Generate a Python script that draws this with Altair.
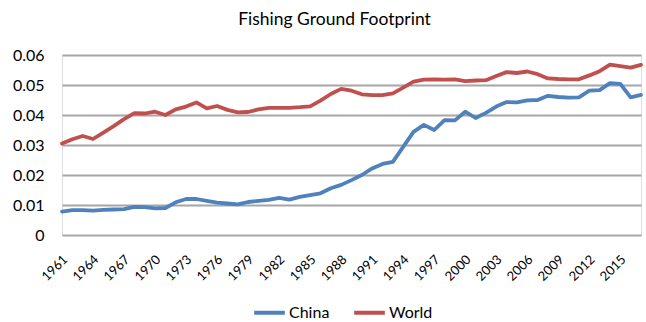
import altair as alt
import pandas as pd

# Fishing ground footprint per capita (global hectares), 1961-2017
years = list(range(1961, 2018))

china = [
    0.0078, 0.0083, 0.0083, 0.0081, 0.0084, 0.0085, 0.0086, 0.0094, 0.0093, 0.0089,
    0.0090, 0.0109, 0.0120, 0.0120, 0.0114, 0.0108, 0.0105, 0.0102, 0.0110, 0.0114,
    0.0117, 0.0124, 0.0118, 0.0127, 0.0133, 0.0139, 0.0156, 0.0167, 0.0183, 0.0200,
    0.0222, 0.0237, 0.0244, 0.0294, 0.0344, 0.0367, 0.0350, 0.0383, 0.0382, 0.0411,
    0.0390, 0.0407, 0.0428, 0.0443, 0.0442, 0.0449, 0.0450, 0.0464, 0.0460, 0.0458,
    0.0459, 0.0481, 0.0483, 0.0506, 0.0504, 0.0459, 0.0467,
]

world = [
    0.0305, 0.0319, 0.0330, 0.0320, 0.0341, 0.0363, 0.0386, 0.0406, 0.0405, 0.0411,
    0.0400, 0.0419, 0.0428, 0.0442, 0.0422, 0.0430, 0.0417, 0.0409, 0.0410, 0.0419,
    0.0424, 0.0424, 0.0424, 0.0426, 0.0429, 0.0448, 0.0470, 0.0487, 0.0481, 0.0469,
    0.0466, 0.0466, 0.0472, 0.0491, 0.0511, 0.0518, 0.0519, 0.0518, 0.0519, 0.0513,
    0.0515, 0.0516, 0.0530, 0.0543, 0.0540, 0.0545, 0.0536, 0.0522, 0.0520, 0.0519,
    0.0519, 0.0532, 0.0546, 0.0568, 0.0563, 0.0558, 0.0567,
]

series_names = ["China", "World"]
series_colors = ["#4F81BD", "#C0504D"]
year_ticks = list(range(1961, 2016, 3))

df = pd.concat([
    pd.DataFrame({"Year": years, "Value": china, "Series": "China"}),
    pd.DataFrame({"Year": years, "Value": world, "Series": "World"}),
])

FONT = "Lato"

chart = (
    alt.Chart(df)
    .mark_line(strokeWidth=3.8, strokeCap="round", strokeJoin="round")
    .encode(
        x=alt.X(
            "Year:Q",
            scale=alt.Scale(domain=[1961, 2017], nice=False, zero=False),
            axis=alt.Axis(
                values=year_ticks,
                format="d",
                labelAngle=-45,
                labelAlign="right",
                labelBaseline="middle",
                labelPadding=22,
                labelOffset=3,
                labelOverlap=False,
                labelFontSize=13,
                labelColor="#000000",
                labelFont=FONT,
                ticks=False,
                domain=False,
                grid=False,
                title=None,
            ),
        ),
        y=alt.Y(
            "Value:Q",
            scale=alt.Scale(domain=[0, 0.06], nice=False),
            axis=alt.Axis(
                values=[0, 0.01, 0.02, 0.03, 0.04, 0.05, 0.06],
                labelExpr="datum.value == 0 ? '0' : format(datum.value, '.2f')",
                labelFontSize=16,
                labelColor="#000000",
                labelFont=FONT,
                labelPadding=18,
                ticks=False,
                domain=False,
                grid=True,
                gridColor="#A6A6A6",
                gridWidth=1.8,
                title=None,
            ),
        ),
        color=alt.Color(
            "Series:N",
            scale=alt.Scale(domain=series_names, range=series_colors),
            legend=alt.Legend(
                orient="none",
                direction="horizontal",
                legendX=190,
                legendY=240,
                title=None,
                symbolType="stroke",
                symbolSize=940,
                symbolStrokeWidth=4,
                labelFontSize=16,
                labelFont=FONT,
                labelColor="#000000",
                labelOffset=2,
                columnPadding=16,
            ),
        ),
    )
    .properties(
        width=579,
        height=180,
        padding={"left": 62, "top": 55, "right": 5, "bottom": 87},
        autosize=alt.AutoSizeParams(type="none"),
        title=alt.TitleParams(
            "Fishing Ground Footprint",
            fontSize=17.5,
            font=FONT,
            fontWeight="normal",
            color="#000000",
            anchor="middle",
            dx=-17,
            offset=19,
        ),
    )
    .configure_view(stroke=None)
    .configure(background="#FFFFFF")
)

chart.save("out.html", embed_options={"renderer": "svg", "actions": False})
